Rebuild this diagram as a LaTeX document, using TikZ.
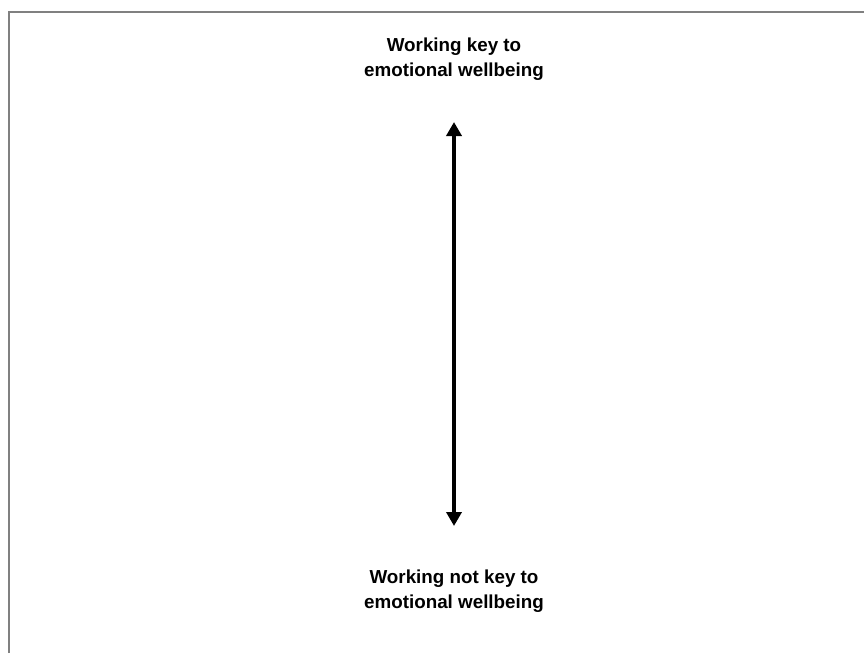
\documentclass[tikz,border=0pt]{standalone}
\usepackage{fontspec}
\setmainfont{Liberation Sans}
\usetikzlibrary{arrows.meta}
\begin{document}
\begin{tikzpicture}[x=1pt,y=-1pt,
  label text/.style={font=\bfseries\fontsize{18.8pt}{25pt}\selectfont, align=center, inner sep=0pt, text=black},
  frameline/.style={draw=black!50, line width=1.4pt},
  twoway/.style={line width=3.5pt, {Triangle[length=14pt,width=15pt]}-{Triangle[length=14pt,width=15pt]}}]
\useasboundingbox (0,0) rectangle (864,653);
\draw[frameline] (9,653) -- (9,12) -- (864,12);
\node[label text] (hi) at (454,59.2) {Working key to\\emotional wellbeing};
\node[label text] (lo) at (454,590.7) {Working not key to\\emotional wellbeing};
\coordinate (atop) at (454,122);
\coordinate (abot) at (454,526);
\draw[twoway] (atop) -- (abot);
\end{tikzpicture}
\end{document}
